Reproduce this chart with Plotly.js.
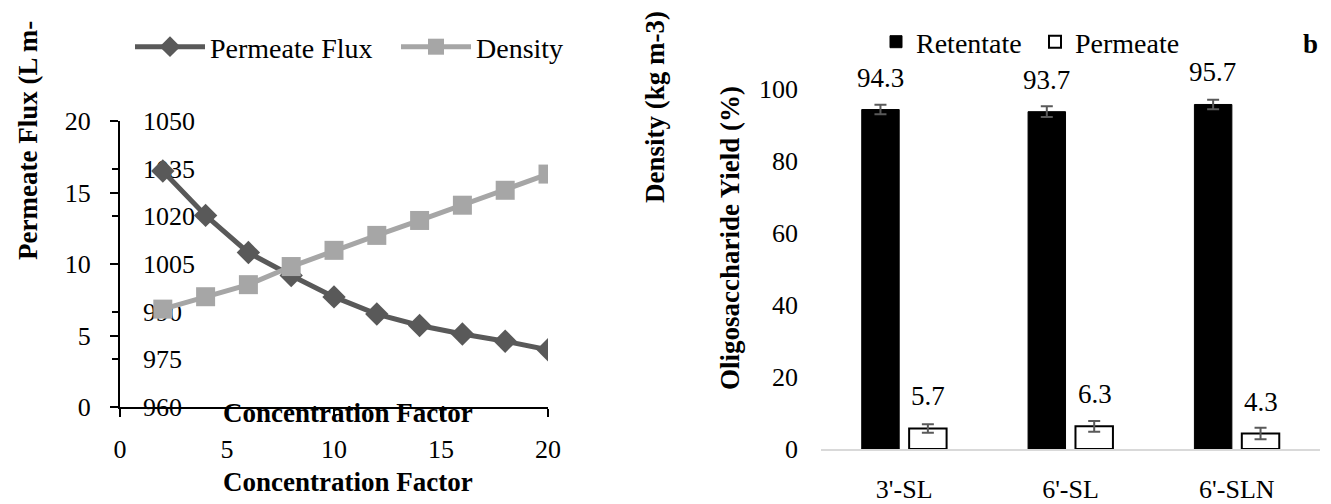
<!DOCTYPE html>
<html>
<head>
<meta charset="utf-8">
<script src="https://cdn.plot.ly/plotly-3.0.1.min.js"></script>
<style>html,body{margin:0;padding:0;background:#fff;}#chart{width:1331px;height:504px;}</style>
</head>
<body>
<div id="chart"></div>
<script>
// ---- Data: panel a (concentration profile) ----
const concentrationFactor = [2, 4, 6, 8, 10, 12, 14, 16, 18, 20];
const permeateFlux = [16.5, 13.4, 10.8, 9.2, 7.7, 6.5, 5.7, 5.1, 4.6, 4.0];
const density = [990.8, 994.7, 998.5, 1004.2, 1009.3, 1014.0, 1018.7, 1023.5, 1028.2, 1033.3];
const fluxTicks = [0, 5, 10, 15, 20];
const densityTicks = [960, 975, 990, 1005, 1020, 1035, 1050];
const cfTicks = [0, 5, 10, 15, 20];

// ---- Data: panel b (oligosaccharide yield) ----
const oligos = ["3'-SL", "6'-SL", "6'-SLN"];
const retentate = [94.3, 93.7, 95.7];
const retentateErr = [1.3, 1.5, 1.3];
const permeate = [5.7, 6.3, 4.3];
const permeateErr = [1.2, 1.5, 1.6];
const yieldTicks = [0, 20, 40, 60, 80, 100];

const W = 1331, H = 504;
const px = v => v / W;
const py = v => 1 - v / H;
const serif = 'Liberation Serif';
const tickFont = {family: serif, size: 26, color: '#000'};
const titleFont = {family: serif, size: 27, color: '#000'};
const legendFont = {family: serif, size: 28, color: '#000'};

const traces = [
  {
    x: concentrationFactor, y: permeateFlux, name: 'Permeate Flux',
    type: 'scatter', mode: 'lines+markers', xaxis: 'x', yaxis: 'y',
    line: {color: '#595959', width: 5},
    marker: {symbol: 'diamond', size: 18, color: '#595959'},
    legend: 'legend'
  },
  {
    x: concentrationFactor, y: density, name: 'Density',
    type: 'scatter', mode: 'lines+markers', xaxis: 'x', yaxis: 'y2',
    line: {color: '#a6a6a6', width: 5},
    marker: {symbol: 'square', size: 19, color: '#a6a6a6'},
    legend: 'legend'
  },
  {
    x: oligos, y: retentate, name: 'Retentate', type: 'bar',
    xaxis: 'x3', yaxis: 'y3',
    marker: {color: '#000', line: {color: '#000', width: 1}},
    error_y: {type: 'data', array: retentateErr, color: '#595959', thickness: 2, width: 6},
    legend: 'legend2'
  },
  {
    x: oligos, y: permeate, name: 'Permeate', type: 'bar',
    xaxis: 'x3', yaxis: 'y3',
    marker: {color: '#fff', line: {color: '#000', width: 2}},
    error_y: {type: 'data', array: permeateErr, color: '#595959', thickness: 2, width: 6},
    legend: 'legend2'
  }
];

const annotations = [];
function addLabel(text, x, y, opts) {
  annotations.push(Object.assign({
    text: text, x: x, y: y, xref: 'paper', yref: 'paper',
    showarrow: false, xanchor: 'center', yanchor: 'middle', font: titleFont
  }, opts || {}));
}
addLabel('<b>Permeate Flux (L m-</b>', px(28), py(141), {textangle: -90});
addLabel('<b>Density (kg m-3)</b>', px(655), py(107), {textangle: -90});
addLabel('<b>Oligosaccharide Yield (%)</b>', px(730), py(238), {textangle: -90});
addLabel('<b>Concentration Factor</b>', px(348), py(413));
addLabel('<b>Concentration Factor</b>', px(348), py(482));
addLabel('<b>b</b>', px(1310), py(44));

oligos.forEach((c, i) => {
  annotations.push({x: c, y: retentate[i], xref: 'x3', yref: 'y3', text: retentate[i].toFixed(1),
    showarrow: false, xshift: -24, yshift: 32, font: titleFont});
  annotations.push({x: c, y: permeate[i], xref: 'x3', yref: 'y3', text: permeate[i].toFixed(1),
    showarrow: false, xshift: 24, yshift: 32, font: titleFont});
});

const layout = {
  width: W, height: H,
  margin: {l: 0, r: 0, t: 0, b: 0},
  paper_bgcolor: '#fff', plot_bgcolor: 'rgba(0,0,0,0)',
  font: {family: serif, color: '#000'},
  barmode: 'group', bargap: 0.43, bargroupgap: 0.21,
  xaxis: {
    domain: [px(120), px(548)], anchor: 'y', range: [0, 20],
    tickvals: cfTicks, ticks: 'outside', ticklen: 8, tickwidth: 2, tickcolor: '#000',
    showline: true, linecolor: '#000', linewidth: 2, showgrid: false, zeroline: false,
    tickfont: tickFont, ticklabelstandoff: 10
  },
  yaxis: {
    domain: [py(407), py(121)], anchor: 'x', range: [0, 20],
    tickvals: fluxTicks, ticks: 'outside', ticklen: 8, tickwidth: 2, tickcolor: '#000',
    showline: true, linecolor: '#000', linewidth: 2, showgrid: false, zeroline: false,
    tickfont: tickFont, ticklabelstandoff: 14
  },
  yaxis2: {
    overlaying: 'y', anchor: 'free', position: px(120), side: 'right',
    range: [960, 1050], tickvals: densityTicks,
    ticks: 'inside', ticklen: 8, tickwidth: 2, tickcolor: '#000',
    ticklabelstandoff: 22,
    showline: false, showgrid: false, zeroline: false,
    tickfont: tickFont, layer: 'below traces'
  },
  xaxis3: {
    domain: [px(821), px(1320)], anchor: 'y3',
    ticks: '', showline: true, linecolor: '#d9d9d9', linewidth: 2,
    showgrid: false, zeroline: false, tickfont: tickFont, ticklabelstandoff: 16
  },
  yaxis3: {
    domain: [py(449), py(89)], anchor: 'x3', range: [0, 100],
    tickvals: yieldTicks, ticks: '', showline: false, showgrid: false, zeroline: false,
    tickfont: tickFont, ticklabelstandoff: 22
  },
  legend: {
    orientation: 'h', x: px(130), y: py(47), xanchor: 'left', yanchor: 'middle',
    font: legendFont, bgcolor: 'rgba(0,0,0,0)', itemwidth: 70,
    entrywidth: 181, entrywidthmode: 'pixels'
  },
  legend2: {
    orientation: 'h', x: px(876), y: py(42), xanchor: 'left', yanchor: 'middle',
    font: legendFont, bgcolor: 'rgba(0,0,0,0)', itemwidth: 30,
    entrywidth: 114, entrywidthmode: 'pixels'
  },
  annotations: annotations,
  showlegend: true
};

Plotly.newPlot('chart', traces, layout, {displayModeBar: false, staticPlot: true});
</script>
</body>
</html>
